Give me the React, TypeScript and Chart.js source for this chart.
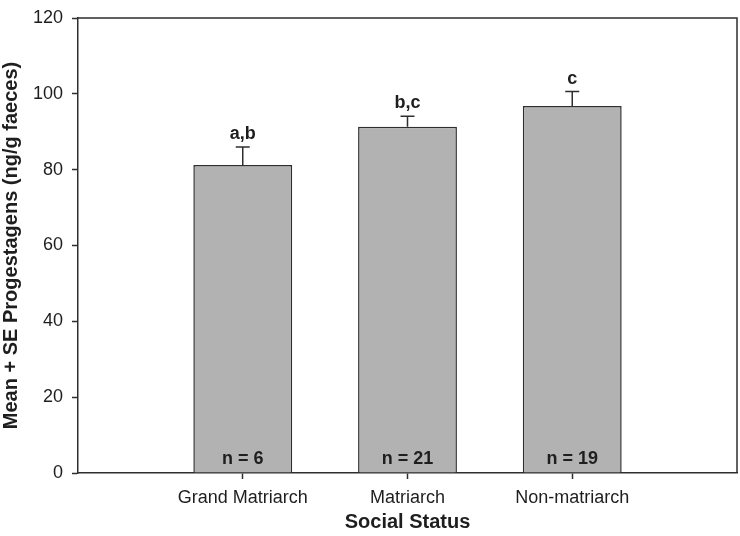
import React, { useEffect, useRef } from "react";
import { Chart, registerables } from "chart.js";

Chart.register(...registerables);

const categories = ["Grand Matriarch", "Matriarch", "Non-matriarch"];
const means = [81.2, 91.3, 96.8];
const standardErrors = [4.8, 2.8, 3.8];
const sampleSizes = [6, 21, 19];
const significanceLetters = ["a,b", "b,c", "c"];
const yTicks = [0, 20, 40, 60, 80, 100, 120];

const FONT = "'Liberation Sans', Arial, Helvetica, sans-serif";
const INK = "#1e1e1e";
const LINE = "#2e2e2e";

const annotationPlugin = {
  id: "annotations",
  afterDatasetsDraw(chart: any) {
    const ctx = chart.ctx;
    const meta = chart.getDatasetMeta(0);
    const yScale = chart.scales.y;
    const area = chart.chartArea;
    ctx.save();
    // error bars
    ctx.strokeStyle = LINE;
    ctx.lineWidth = 1.5;
    meta.data.forEach((bar: any, i: number) => {
      const yTop = yScale.getPixelForValue(means[i] + standardErrors[i]);
      const yMean = yScale.getPixelForValue(means[i]);
      ctx.beginPath();
      ctx.moveTo(bar.x, yMean);
      ctx.lineTo(bar.x, yTop);
      ctx.moveTo(bar.x - 7, yTop);
      ctx.lineTo(bar.x + 7, yTop);
      ctx.stroke();
      // letters
      ctx.fillStyle = INK;
      ctx.font = `bold 18px ${FONT}`;
      ctx.textAlign = "center";
      ctx.textBaseline = "alphabetic";
      ctx.fillText(significanceLetters[i], bar.x, yTop - 8);
      // n labels
      ctx.fillText(`n = ${sampleSizes[i]}`, bar.x, yScale.getPixelForValue(0) - 9);
    });
    // frame top and right
    ctx.beginPath();
    ctx.moveTo(area.left, area.top);
    ctx.lineTo(area.right, area.top);
    ctx.lineTo(area.right, area.bottom);
    ctx.stroke();
    ctx.restore();
  },
};

export default function App() {
  const canvasRef = useRef<HTMLCanvasElement | null>(null);

  useEffect(() => {
    if (!canvasRef.current) return;
    const chart = new Chart(canvasRef.current, {
      type: "bar",
      data: {
        datasets: [
          {
            data: means.map((v, i) => ({ x: i + 1, y: v })),
            backgroundColor: "#b2b2b2",
            borderColor: LINE,
            borderWidth: 1.5,
            barPercentage: 0.6,
            categoryPercentage: 1,
          },
        ],
      },
      options: {
        responsive: false,
        animation: false,
        layout: { padding: { top: 9, right: 3, left: 0, bottom: 0 } },
        plugins: {
          legend: { display: false },
          tooltip: { enabled: false },
        },
        scales: {
          x: {
            type: "linear",
            min: 0,
            max: 4,
            offset: false,
            afterBuildTicks: (scale: any) => {
              scale.ticks = categories.map((_, i) => ({ value: i + 1 }));
            },
            afterFit: (scale: any) => {
              scale.height = 63;
            },
            ticks: {
              autoSkip: false,
              maxRotation: 0,
              padding: 8,
              color: INK,
              font: { family: FONT, size: 18 },
              callback: (v: any) => categories[Math.round(Number(v)) - 1] ?? "",
            },
            grid: {
              offset: false,
              drawOnChartArea: false,
              drawTicks: true,
              tickLength: 6,
              tickColor: LINE,
              tickWidth: 1.5,
            },
            border: { display: true, color: LINE, width: 1.5 },
            title: {
              display: true,
              text: "Social Status",
              color: INK,
              font: { family: FONT, size: 20, weight: "bold" },
              padding: { top: 0, bottom: 2 },
            },
          },
          y: {
            type: "linear",
            min: 0,
            max: 120,
            afterBuildTicks: (scale: any) => {
              scale.ticks = yTicks.map((v) => ({ value: v }));
            },
            afterFit: (scale: any) => {
              scale.width = 78;
            },
            ticks: {
              padding: 9,
              color: INK,
              font: { family: FONT, size: 18, lineHeight: 1 },
            },
            grid: {
              drawOnChartArea: false,
              drawTicks: true,
              tickLength: 6,
              tickColor: LINE,
              tickWidth: 1.5,
            },
            border: { display: true, color: LINE, width: 1.5 },
            title: {
              display: true,
              text: "Mean + SE Progestagens (ng/g faeces)",
              color: INK,
              font: { family: FONT, size: 20, weight: "bold", lineHeight: 1 },
              padding: { top: 1, bottom: 0 },
            },
          },
        },
      },
      plugins: [annotationPlugin],
    } as any);
    return () => chart.destroy();
  }, []);

  return (
    <div style={{ position: "absolute", left: 0, top: 0, width: 740, height: 536, background: "#fff" }}>
      <canvas ref={canvasRef} width={740} height={536} style={{ display: "block" }} />
    </div>
  );
}
